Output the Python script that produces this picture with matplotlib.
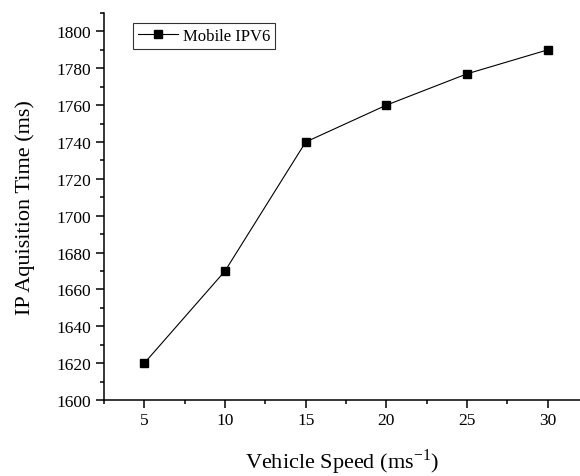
import matplotlib
matplotlib.use('Agg')
import matplotlib.pyplot as plt
from matplotlib.ticker import MultipleLocator

speed = [5, 10, 15, 20, 25, 30]
acq_time = [1620, 1670, 1740, 1760, 1777, 1790]

plt.rcParams['font.family'] = ['Liberation Serif', 'DejaVu Serif']
plt.rcParams['mathtext.fontset'] = 'custom'
plt.rcParams['mathtext.rm'] = 'Liberation Serif'

fig = plt.figure(figsize=(5.8, 4.77), dpi=100)
ax = fig.add_axes([104 / 580, 1 - 401 / 477, 476 / 580, 387 / 477])

ax.plot(speed, acq_time, color='black', lw=0.8, marker='s', ms=6,
        label='Mobile IPV6')

ax.set_xlim(2.5, 32)
ax.set_ylim(1600, 1810)
ax.xaxis.set_major_locator(MultipleLocator(5))
ax.xaxis.set_minor_locator(MultipleLocator(2.5))
ax.yaxis.set_major_locator(MultipleLocator(20))
ax.yaxis.set_minor_locator(MultipleLocator(10))

for s in ['top', 'right']:
    ax.spines[s].set_visible(False)
for s in ['left', 'bottom']:
    ax.spines[s].set_linewidth(1.1)

ax.tick_params(which='major', direction='out', length=6, width=1.1, labelsize=12.5, pad=3)
ax.tick_params(which='minor', direction='out', length=3, width=1.1)

ax.set_xlabel('Vehicle Speed (ms$^{\\mathregular{-1}}$)', fontsize=16, labelpad=13)
ax.set_ylabel('IP Aquisition Time (ms)', fontsize=16, labelpad=16)

leg = ax.legend(loc='upper left', bbox_to_anchor=(0.061, 0.974), fontsize=12,
                frameon=True, fancybox=False, edgecolor='black',
                handlelength=2.4, borderpad=0.3, handletextpad=0.3,
                borderaxespad=0)
leg.get_frame().set_linewidth(0.8)

fig.savefig('out.png', dpi=100)
